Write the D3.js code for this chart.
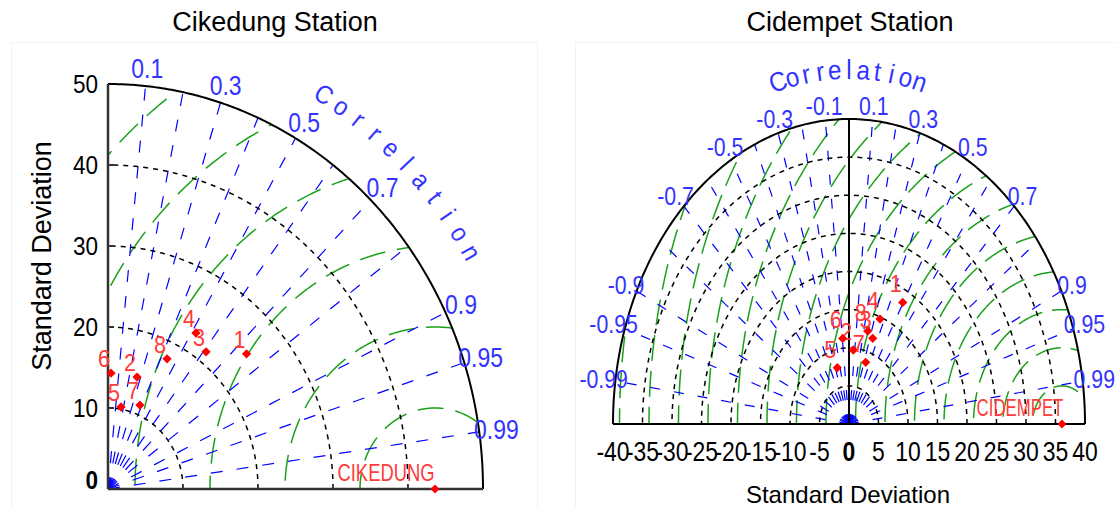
<!DOCTYPE html>
<html>
<head>
<meta charset="utf-8">
<script src="https://cdn.jsdelivr.net/npm/d3@7"></script>
<style>
  body { margin: 0; background: #fff; }
  svg { display: block; font-family: "Liberation Sans", Arial, sans-serif; }
</style>
</head>
<body>
<svg width="1115" height="507"></svg>
<script>
// Cikedung station (models 1..8, reference CIKEDUNG)
const cikModels = ["1", "2", "3", "4", "5", "6", "7", "8"];
const cikStd = [24.9, 14.35, 21.4, 22.55, 10.27, 14.3, 11.2, 17.9];
const cikCorr = [0.742, 0.27, 0.611, 0.52, 0.169, 0.028, 0.38, 0.44];
const cikRefStd = 43.6;

// Cidempet station (models 1..8, reference CIDEMPET)
const cidModels = ["1", "2", "3", "4", "5", "6", "7", "8"];
const cidStd = [18.36, 9.73, 11.93, 14.73, 7.64, 11.28, 8.57, 12.6];
const cidCorr = [0.496, 0.075, 0.337, 0.357, -0.26, -0.095, 0.33, 0.252];
const cidRefStd = 36.1;

// grid / ticks
const corrLines = [0.1, 0.2, 0.3, 0.4, 0.5, 0.6, 0.7, 0.8, 0.9, 0.95, 0.99];
const corrLabels = [0.1, 0.3, 0.5, 0.7, 0.9, 0.95, 0.99];
const cikStdTicks = [0, 10, 20, 30, 40, 50];
const cikStdArcs = [10, 20, 30, 40];
const cikRmsArcs = [10, 20, 30, 40, 50, 60];
const cidStdTicks = [-40, -35, -30, -25, -20, -15, -10, -5, 0, 5, 10, 15, 20, 25, 30, 35, 40];
const cidStdArcs = [5, 10, 15, 20, 25, 30, 35];
const cidRmsArcs = [5, 10, 15, 20, 25, 30, 35, 40, 45, 50, 55, 60, 65, 70, 75];

const svg = d3.select("svg");
const BLUE = "#0000ff", LBLUE = "#3333ff", GREEN = "#1aa01a", RED = "#ff0000", LRED = "#ff3a3a";

// faint panel frames
svg.append("rect").attr("x", 11.5).attr("y", 42.5).attr("width", 526).attr("height", 470)
  .attr("fill", "none").attr("stroke", "#f2f2f2");
svg.append("rect").attr("x", 575.5).attr("y", 42.5).attr("width", 545).attr("height", 470)
  .attr("fill", "none").attr("stroke", "#f2f2f2");

function label(g, px, py, str, o) {
  return g.append("text")
    .attr("transform", `translate(${px},${py}) scale(${o.sx || 1},1)`)
    .attr("text-anchor", o.anchor || "middle")
    .attr("font-size", o.size)
    .attr("font-weight", o.weight || "normal")
    .attr("fill", o.color || "#000")
    .text(str);
}

function taylor(cfg) {
  const g = svg.append("g");
  const x = cfg.x, y = cfg.y, R = cfg.maxStd;
  const a0 = 0, a1 = cfg.full ? Math.PI : Math.PI / 2;
  const P = (r, th) => [x(r * Math.cos(th)), y(r * Math.sin(th))];
  const line = d3.line();
  const arc = (r) => d3.range(0, 241).map(i => P(r, a0 + (a1 - a0) * i / 240));

  // clip region = the diagram sector
  const clipId = "clip-" + cfg.id;
  g.append("clipPath").attr("id", clipId).append("path")
    .attr("d", line([[x(0), y(0)], ...arc(R)]) + "Z");

  // green RMS arcs around the reference point
  const gr = g.append("g").attr("clip-path", `url(#${clipId})`);
  cfg.rms.forEach(k => {
    const pts = d3.range(0, 361).map(i => {
      const ph = Math.PI * i / 360;
      return [x(cfg.ref + k * Math.cos(ph)), y(k * Math.sin(ph))];
    });
    gr.append("path").attr("d", line(pts)).attr("fill", "none")
      .attr("stroke", GREEN).attr("stroke-width", 1.5).attr("stroke-dasharray", cfg.greenDash);
  });

  // blue correlation rays
  const rays = cfg.full ? corrLines.concat(corrLines.map(c => -c)) : corrLines;
  rays.forEach(c => {
    const th = Math.acos(c);
    g.append("path").attr("d", line([P(0, th), P(R, th)])).attr("fill", "none")
      .attr("stroke", BLUE).attr("stroke-width", 1.2).attr("stroke-dasharray", cfg.blueDash);
  });

  // black dashed std arcs
  cfg.stdArcs.forEach(r => {
    g.append("path").attr("d", line(arc(r))).attr("fill", "none")
      .attr("stroke", "#000").attr("stroke-width", 1.5).attr("stroke-dasharray", "5,5");
  });

  // outer arc and axes
  g.append("path").attr("d", line(arc(R))).attr("fill", "none")
    .attr("stroke", "#000").attr("stroke-width", 2);
  g.append("path").attr("d", line([[x(cfg.full ? -R : 0), y(0)], [x(R), y(0)]]))
    .attr("stroke", cfg.axisColor).attr("stroke-width", cfg.axisWidth);
  g.append("path").attr("d", line([[x(0), y(0)], [x(0), y(R)]]))
    .attr("stroke", cfg.axisColor).attr("stroke-width", cfg.axisWidth);

  // correlation labels
  corrLabels.concat(cfg.full ? corrLabels.map(c => -c) : []).forEach(c => {
    const [px, py] = P(cfg.labR, Math.acos(c));
    label(g, px, py + cfg.labSize * 0.36, String(c), { size: cfg.labSize, sx: 0.82, color: LBLUE });
  });

  // curved "Correlation" title
  const word = "Correlation".split("");
  word.forEach((ch, i) => {
    const th = (cfg.titleA0 + (cfg.titleA1 - cfg.titleA0) * i / (word.length - 1)) * Math.PI / 180;
    const [px, py] = P(cfg.titleR, th);
    const sxp = x(1) - x(0), syp = y(0) - y(1);
    const rot = Math.atan2(syp * Math.cos(th), sxp * Math.sin(th)) * 180 / Math.PI;
    g.append("text")
      .attr("transform", `translate(${px},${py}) rotate(${rot}) scale(0.9,1)`)
      .attr("text-anchor", "middle").attr("dy", "0.35em")
      .attr("font-size", cfg.titleSize).attr("fill", LBLUE).text(ch);
  });

  // reference point
  const [rx, ry] = P(cfg.ref, 0);
  g.append("path").attr("transform", `translate(${rx},${ry})`)
    .attr("d", d3.symbol(d3.symbolDiamond2, 50)()).attr("fill", RED);
  label(g, rx - cfg.refDx, ry - 8, cfg.refName, { size: cfg.refSize, sx: cfg.refSx, color: LRED });

  // model points
  cfg.std.forEach((s, i) => {
    const [px, py] = P(s, Math.acos(cfg.corr[i]));
    g.append("path").attr("transform", `translate(${px},${py})`)
      .attr("d", d3.symbol(d3.symbolDiamond2, 55)()).attr("fill", RED);
    label(g, px - 7, py - cfg.numDy, cfg.models[i], { size: cfg.numSize, sx: 0.9, color: LRED });
  });
  return g;
}

// ---- Cikedung ----
const xL = d3.scaleLinear().domain([0, 50]).range([108, 483]);
const yL = d3.scaleLinear().domain([0, 50]).range([489, 84]);
const gL = taylor({
  id: "cik", x: xL, y: yL, maxStd: 50, full: false, ref: cikRefStd,
  rms: cikRmsArcs, stdArcs: cikStdArcs, greenDash: "26,12", blueDash: "12,14",
  axisColor: "#333", axisWidth: 2.5, labR: 52.3, labSize: 28,
  titleR: 56.6, titleA0: 59.4, titleA1: 31.1, titleSize: 26,
  refName: "CIKEDUNG", refDx: 49, refSize: 23, refSx: 0.8,
  std: cikStd, corr: cikCorr, models: cikModels, numDy: 6, numSize: 24
});
cikStdTicks.forEach(v => {
  label(gL, 98, yL(v) + 9 - (v === 0 ? 9 : 0), String(v),
    { size: 25, sx: 0.9, anchor: "end", weight: v === 0 ? "bold" : "normal" });
  if (v > 0 && v < 50) gL.append("path").attr("d", d3.line()([[xL(0), yL(v)], [xL(0) + 6, yL(v)]]))
    .attr("stroke", "#333").attr("stroke-width", 2);
});
svg.append("text").attr("transform", "translate(51,256) rotate(-90)")
  .attr("text-anchor", "middle").attr("font-size", 27).text("Standard Deviation");
svg.append("text").attr("x", 275).attr("y", 31).attr("text-anchor", "middle")
  .attr("font-size", 27).text("Cikedung Station");

// ---- Cidempet ----
const xR = d3.scaleLinear().domain([-40, 40]).range([613, 1085]);
const yR = d3.scaleLinear().domain([0, 40]).range([424, 119]);
const gR = taylor({
  id: "cid", x: xR, y: yR, maxStd: 40, full: true, ref: cidRefStd,
  rms: cidRmsArcs, stdArcs: cidStdArcs, greenDash: "26,10", blueDash: "10,14",
  axisColor: "#000", axisWidth: 2, labR: 42, labSize: 26,
  titleR: 46.5, titleA0: 105, titleA1: 75, titleSize: 27,
  refName: "CIDEMPET", refDx: 42, refSize: 24, refSx: 0.7,
  std: cidStd, corr: cidCorr, models: cidModels, numDy: 10, numSize: 24
});
cidStdTicks.forEach(v => {
  label(gR, xR(v), 461, String(v), { size: 27, sx: 0.85, weight: v === 0 ? "bold" : "normal" });
});
svg.append("text").attr("x", 848).attr("y", 503).attr("text-anchor", "middle")
  .attr("font-size", 24).text("Standard Deviation");
svg.append("text").attr("x", 850).attr("y", 31).attr("text-anchor", "middle")
  .attr("font-size", 27).text("Cidempet Station");
</script>
</body>
</html>
